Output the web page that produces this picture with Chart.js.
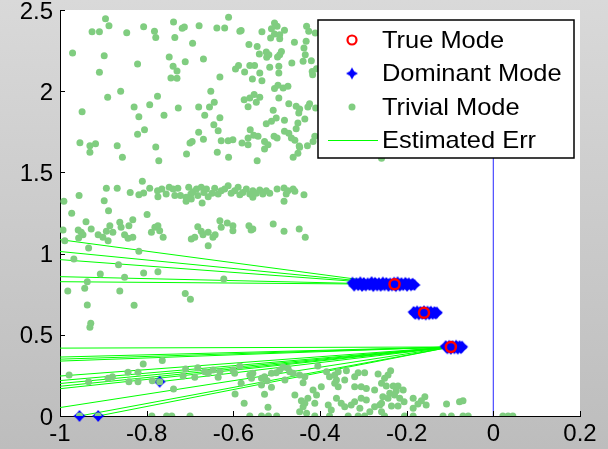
<!DOCTYPE html>
<html>
<head>
<meta charset="utf-8">
<script src="https://cdn.jsdelivr.net/npm/chart.js@4.4.1/dist/chart.umd.min.js"></script>
<style>
  html, body { margin: 0; padding: 0; background: #c8c8c8; }
  canvas { display: block; }
</style>
</head>
<body>
<canvas id="modes" width="608" height="449"></canvas>
<script>
// axis ticks
const xTicks = [-1, -0.8, -0.6, -0.4, -0.2, 0, 0.2];
const yTicks = [0, 0.5, 1, 1.5, 2, 2.5];

// true modes (red circles)
const trueModes = [[-0.228, 0.811], [-0.160, 0.636], [-0.098, 0.425]];

// dominant mode estimates (blue stars), one cluster per true mode
const domUpper = [
  [-0.325, 0.821], [-0.316, 0.818], [-0.307, 0.823], [-0.299, 0.819], [-0.290, 0.817], [-0.281, 0.824],
  [-0.273, 0.820], [-0.264, 0.818], [-0.255, 0.822], [-0.247, 0.819], [-0.238, 0.816], [-0.229, 0.821],
  [-0.221, 0.823], [-0.212, 0.818], [-0.203, 0.820], [-0.195, 0.817], [-0.186, 0.814],
  [-0.322, 0.811], [-0.311, 0.812], [-0.298, 0.810], [-0.284, 0.811], [-0.270, 0.812], [-0.256, 0.810],
  [-0.242, 0.811], [-0.228, 0.812], [-0.214, 0.810], [-0.200, 0.811], [-0.187, 0.811],
  [-0.321, 0.803], [-0.312, 0.806], [-0.303, 0.801], [-0.294, 0.804], [-0.286, 0.807], [-0.277, 0.800],
  [-0.268, 0.804], [-0.260, 0.802], [-0.251, 0.805], [-0.242, 0.801], [-0.234, 0.804], [-0.225, 0.800],
  [-0.216, 0.803], [-0.208, 0.806], [-0.199, 0.802], [-0.190, 0.805], [-0.182, 0.807]
];
const domMiddle = [
  [-0.184, 0.641], [-0.176, 0.644], [-0.168, 0.641], [-0.160, 0.645], [-0.152, 0.643], [-0.144, 0.642],
  [-0.136, 0.640], [-0.130, 0.637],
  [-0.182, 0.635], [-0.170, 0.636], [-0.158, 0.635], [-0.146, 0.636], [-0.134, 0.635],
  [-0.180, 0.629], [-0.172, 0.626], [-0.164, 0.629], [-0.156, 0.625], [-0.148, 0.627], [-0.140, 0.629],
  [-0.133, 0.631]
];
const domLower = [
  [-0.110, 0.430], [-0.102, 0.432], [-0.094, 0.431], [-0.086, 0.433], [-0.078, 0.430], [-0.072, 0.427],
  [-0.108, 0.424], [-0.096, 0.425], [-0.084, 0.424], [-0.074, 0.423],
  [-0.106, 0.417], [-0.098, 0.414], [-0.090, 0.417], [-0.082, 0.415], [-0.075, 0.418]
];
const domStray = [[-0.955, 0], [-0.912, 0], [-0.770, 0.211]];

// trivial modes (green dots)
const trivialUpper = [
  [-0.895, 2.446], [-0.887, 2.403], [-0.926, 2.366], [-0.909, 2.366], [-0.846, 2.360], [-0.807, 2.397],
  [-0.782, 2.369], [-0.779, 2.330], [-0.738, 2.426], [-0.735, 2.330], [-0.718, 2.387], [-0.713, 2.396],
  [-0.679, 2.403], [-0.638, 2.389], [-0.694, 2.295], [-0.971, 2.235], [-0.898, 2.219], [-0.821, 2.167],
  [-0.748, 2.211], [-0.711, 2.182], [-0.669, 2.198], [-0.739, 2.153], [-0.730, 2.124], [-0.744, 2.081],
  [-0.730, 2.079], [-0.909, 2.116], [-0.631, 2.087], [-0.860, 1.999], [-0.890, 1.962], [-0.949, 1.874],
  [-0.829, 1.903], [-0.793, 1.917], [-0.775, 1.969], [-0.818, 1.843], [-0.760, 1.852], [-0.727, 1.897],
  [-0.680, 1.903], [-0.655, 1.903], [-0.652, 1.999], [-0.644, 1.932], [-0.666, 1.852], [-0.631, 1.837],
  [-0.645, 1.794], [-0.635, 1.757], [-0.680, 1.747], [-0.669, 1.704], [-0.695, 1.691], [-0.700, 1.681],
  [-0.628, 1.695], [-0.805, 1.763], [-0.821, 1.735], [-0.954, 1.683], [-0.931, 1.664], [-0.918, 1.677],
  [-0.868, 1.664], [-0.779, 1.656],
  [-0.611, 2.455], [-0.620, 2.389], [-0.582, 2.373], [-0.585, 2.369], [-0.534, 2.366], [-0.505, 2.420],
  [-0.499, 2.400], [-0.512, 2.385], [-0.482, 2.375], [-0.505, 2.352], [-0.493, 2.348], [-0.514, 2.328],
  [-0.493, 2.323], [-0.431, 2.400], [-0.426, 2.369], [-0.411, 2.358], [-0.459, 2.301], [-0.432, 2.307],
  [-0.564, 2.287], [-0.545, 2.276], [-0.540, 2.229], [-0.524, 2.241], [-0.518, 2.225], [-0.523, 2.209],
  [-0.489, 2.245], [-0.493, 2.225], [-0.498, 2.211], [-0.437, 2.266], [-0.434, 2.225], [-0.439, 2.184],
  [-0.420, 2.188], [-0.465, 2.174], [-0.516, 2.147], [-0.495, 2.153], [-0.495, 2.112], [-0.562, 2.159],
  [-0.551, 2.159], [-0.588, 2.159], [-0.595, 2.137], [-0.574, 2.118], [-0.539, 2.112], [-0.556, 2.075],
  [-0.534, 2.065], [-0.418, 2.122], [-0.408, 2.139], [-0.417, 2.102], [-0.497, 2.036], [-0.505, 2.016],
  [-0.485, 2.020], [-0.474, 2.030], [-0.575, 1.948], [-0.562, 1.958], [-0.552, 1.979], [-0.539, 1.962],
  [-0.547, 1.932], [-0.566, 1.905], [-0.495, 1.958], [-0.508, 1.882], [-0.472, 1.923], [-0.455, 1.907],
  [-0.447, 1.890], [-0.449, 1.866], [-0.428, 1.903], [-0.424, 1.923], [-0.410, 1.897], [-0.512, 1.815],
  [-0.524, 1.800], [-0.501, 1.835], [-0.482, 1.821], [-0.451, 1.804], [-0.435, 1.829], [-0.455, 1.769],
  [-0.561, 1.763], [-0.543, 1.722], [-0.553, 1.728], [-0.566, 1.712], [-0.482, 1.753], [-0.472, 1.741],
  [-0.466, 1.712], [-0.458, 1.698], [-0.506, 1.722], [-0.499, 1.712], [-0.528, 1.691], [-0.520, 1.671],
  [-0.412, 1.722], [-0.416, 1.691], [-0.612, 1.695], [-0.601, 1.701], [-0.580, 1.681], [-0.566, 1.671],
  [-0.448, 1.663], [-0.429, 1.664], [-0.258, 1.587],
  [-0.931, 1.624], [-0.856, 1.593], [-0.772, 1.572], [-0.708, 1.613], [-0.637, 1.624], [-0.611, 1.593],
  [-0.545, 1.572], [-0.528, 1.644], [-0.447, 1.655], [-0.451, 1.618], [-0.462, 1.593]
];
const trivialBand = [
  [-0.810, 1.445], [-0.893, 1.402], [-0.868, 1.402], [-0.956, 1.357], [-0.991, 1.322], [-0.898, 1.326],
  [-0.838, 1.377], [-0.818, 1.363], [-0.807, 1.373], [-0.793, 1.402], [-0.775, 1.387], [-0.774, 1.350],
  [-0.765, 1.398], [-0.755, 1.367], [-0.748, 1.408], [-0.739, 1.398], [-0.735, 1.357], [-0.728, 1.402],
  [-0.722, 1.357], [-0.709, 1.347], [-0.703, 1.408], [-0.698, 1.367], [-0.693, 1.381], [-0.685, 1.398],
  [-0.682, 1.357], [-0.674, 1.408], [-0.668, 1.377], [-0.662, 1.398], [-0.658, 1.350], [-0.649, 1.371],
  [-0.643, 1.402], [-0.635, 1.367], [-0.628, 1.387], [-0.709, 1.322], [-0.697, 1.336], [-0.672, 1.312],
  [-0.620, 1.398], [-0.612, 1.418], [-0.605, 1.371], [-0.597, 1.387], [-0.589, 1.408], [-0.585, 1.363],
  [-0.578, 1.377], [-0.570, 1.398], [-0.562, 1.367], [-0.555, 1.387], [-0.555, 1.347], [-0.547, 1.371],
  [-0.539, 1.392], [-0.532, 1.367], [-0.524, 1.387], [-0.516, 1.371], [-0.499, 1.398], [-0.483, 1.404],
  [-0.478, 1.367], [-0.474, 1.387], [-0.483, 1.322], [-0.462, 1.398], [-0.458, 1.384], [-0.437, 1.363],
  [-0.888, 1.264], [-0.973, 1.248], [-0.799, 1.240]
];
const trivialMid = [
  [-0.993, 1.145], [-0.631, 1.203], [-0.940, 1.196], [-0.832, 1.209], [-0.958, 1.145], [-0.951, 1.131],
  [-0.947, 1.116], [-0.957, 1.096], [-0.928, 1.151], [-0.912, 1.116], [-0.901, 1.100], [-0.889, 1.079],
  [-0.893, 1.137], [-0.885, 1.172], [-0.878, 1.131], [-0.862, 1.193], [-0.859, 1.162], [-0.851, 1.116],
  [-0.841, 1.172], [-0.843, 1.094], [-0.832, 1.100], [-0.789, 1.131], [-0.781, 1.162], [-0.774, 1.172],
  [-0.770, 1.141], [-0.762, 1.100], [-0.682, 1.166], [-0.674, 1.137], [-0.670, 1.116], [-0.658, 1.131],
  [-0.647, 1.100], [-0.642, 1.116], [-0.697, 1.090], [-0.689, 1.100], [-0.658, 1.049], [-0.628, 1.162],
  [-0.989, 1.079], [-0.934, 1.034], [-0.818, 1.014], [-0.968, 0.967], [-0.865, 0.932], [-0.907, 0.874],
  [-0.851, 0.854], [-0.807, 0.881], [-0.774, 0.889], [-0.937, 0.827],
  [-0.614, 1.188], [-0.601, 1.172], [-0.601, 1.141], [-0.564, 1.172], [-0.559, 1.145], [-0.555, 1.151],
  [-0.508, 1.182], [-0.483, 1.137], [-0.448, 1.151], [-0.434, 1.100], [-0.622, 0.844],
  [-0.943, 0.786], [-0.982, 0.770], [-0.862, 0.770], [-0.711, 0.755], [-0.699, 0.719], [-0.937, 0.683],
  [-0.829, 0.682], [-0.929, 0.571], [-0.931, 0.546]
];
const trivialLow = [
  [-0.808, 0.320], [-0.764, 0.341], [-0.979, 0.252], [-0.934, 0.211], [-0.889, 0.232], [-0.879, 0.242],
  [-0.843, 0.269], [-0.820, 0.269], [-0.841, 0.211], [-0.820, 0.211], [-0.787, 0.217], [-0.738, 0.166],
  [-0.710, 0.289], [-0.682, 0.297], [-0.666, 0.273], [-0.647, 0.283], [-0.716, 0.246], [-0.689, 0.238],
  [-0.658, 0.263], [-0.635, 0.238], [-0.631, 0.273], [-0.596, 0.135], [-0.575, 0.078], [-0.770, 0.211],
  [-0.405, 0.308], [-0.601, 0.283], [-0.597, 0.263], [-0.585, 0.308], [-0.562, 0.252], [-0.558, 0.232],
  [-0.555, 0.263], [-0.535, 0.232], [-0.528, 0.242], [-0.522, 0.217], [-0.512, 0.263], [-0.501, 0.267],
  [-0.493, 0.283], [-0.485, 0.300], [-0.474, 0.294], [-0.470, 0.273], [-0.462, 0.263], [-0.481, 0.222],
  [-0.447, 0.252], [-0.435, 0.242], [-0.439, 0.205], [-0.582, 0.201], [-0.535, 0.191], [-0.512, 0.177],
  [-0.528, 0.134], [-0.520, 0.054], [-0.458, 0.129], [-0.443, 0.094], [-0.435, 0.078], [-0.428, 0.109],
  [-0.439, 0.057], [-0.447, 0.026], [-0.431, 0.017], [-0.416, 0.160], [-0.408, 0.129], [-0.397, 0.180],
  [-0.412, 0.078], [-0.385, 0.273], [-0.378, 0.242], [-0.366, 0.252], [-0.358, 0.273], [-0.362, 0.222],
  [-0.358, 0.180], [-0.366, 0.201], [-0.339, 0.279], [-0.343, 0.222], [-0.320, 0.242], [-0.312, 0.267],
  [-0.297, 0.267], [-0.320, 0.180], [-0.305, 0.180], [-0.293, 0.170], [-0.274, 0.160], [-0.258, 0.201],
  [-0.381, 0.068], [-0.374, 0.037], [-0.362, 0.109], [-0.351, 0.078], [-0.343, 0.057], [-0.328, 0.068],
  [-0.320, 0.088], [-0.305, 0.109], [-0.293, 0.099], [-0.274, 0.057], [-0.262, 0.068], [-0.308, 0.047],
  [-0.285, 0.026], [-0.258, 0.026], [-0.266, 0.259],
  [-0.237, 0.279], [-0.243, 0.252], [-0.251, 0.232], [-0.247, 0.185], [-0.231, 0.185], [-0.220, 0.185],
  [-0.224, 0.156], [-0.208, 0.160], [-0.239, 0.140], [-0.228, 0.129], [-0.216, 0.109], [-0.206, 0.088],
  [-0.243, 0.109], [-0.255, 0.119], [-0.258, 0.078], [-0.235, 0.062], [-0.220, 0.062], [-0.185, 0.109],
  [-0.158, 0.119], [-0.166, 0.094], [-0.174, 0.074], [-0.185, 0.047], [-0.155, 0.068], [-0.108, 0.074],
  [-0.078, 0.088], [-0.070, 0.094]
];
// dots sitting on the x axis
const trivialZero = [
  -0.955, -0.912, -0.788, -0.754, -0.742, -0.700, -0.562, -0.535, -0.519, -0.500, -0.412, -0.378,
  -0.335, -0.312, -0.297, -0.251, -0.205, -0.185, -0.116, -0.097, -0.070, -0.058, 0.022, 0.034, 0.045
];

// estimated error lines: y where each one enters at x = -1, and the mode it ends on
const errUpperY = [1.086, 1.013, 0.963, 0.858, 0.827];   // -> trueModes[0]
const errLowerY = [0.418, 0.363, 0.350, 0.338, 0.246, 0.218, 0.200, 0.183, 0.168, 0.052];   // -> trueModes[2]

// x = 0 reference line
const zeroLine = [[0, 0], [0, 2.0]];

const GREEN_DOT = 'rgb(128,205,128)';
const ERR_GREEN = '#00ff00';
const FONT = { family: '"Liberation Sans", Arial, sans-serif', size: 24 };

const xy = pts => pts.map(([x, y]) => ({ x, y }));
const fmt = v => String(+Number(v).toFixed(2));

// four point star marker; k sets how fat the waist is
function makeStar(r, k, color) {
  const c = document.createElement('canvas');
  const s = Math.ceil(r * 2 + 2);
  c.width = s; c.height = s;
  const g = c.getContext('2d');
  const m = s / 2, w = r * k;
  g.fillStyle = color;
  g.beginPath();
  g.moveTo(m, m - r); g.lineTo(m + w, m - w); g.lineTo(m + r, m); g.lineTo(m + w, m + w);
  g.lineTo(m, m + r); g.lineTo(m - w, m + w); g.lineTo(m - r, m); g.lineTo(m - w, m - w);
  g.closePath();
  g.fill();
  return c;
}
const star = makeStar(6, 0.45, '#0000ff');
const legendStar = makeStar(6, 0.36, '#0000ff');

const errLine = (from, to) => ({
  type: 'scatter',
  data: xy([from, to]),
  showLine: true,
  borderColor: ERR_GREEN,
  borderWidth: 1,
  pointRadius: 0,
  clip: 0,
  order: 4
});

const errSets = [
  ...errUpperY.map(y => errLine([-1, y], trueModes[0])),
  ...errLowerY.map(y => errLine([-1, y], trueModes[2])),
  ...domStray.map(p => errLine(p, trueModes[2]))
];

const trivialAll = [
  ...trivialUpper, ...trivialBand, ...trivialMid, ...trivialLow,
  ...trivialZero.map(x => [x, 0])
];

// gray figure background with a white axes box
const figureBg = {
  id: 'figureBg',
  beforeDraw(chart) {
    const { ctx, width, height, chartArea: a } = chart;
    ctx.save();
    const g = ctx.createLinearGradient(0, 0, 0, height);
    g.addColorStop(0, '#d9d9d9');
    g.addColorStop(1, '#bdbdbd');
    ctx.fillStyle = g;
    ctx.fillRect(0, 0, width, height);
    ctx.fillStyle = '#ffffff';
    ctx.fillRect(a.left, a.top, a.right - a.left, a.bottom - a.top);
    ctx.restore();
  }
};

// MATLAB style ticks pointing into the axes
const inwardTicks = {
  id: 'inwardTicks',
  afterDatasetsDraw(chart) {
    const { ctx, chartArea: a, scales: { x, y } } = chart;
    ctx.save();
    ctx.strokeStyle = '#000';
    ctx.lineWidth = 1;
    ctx.beginPath();
    xTicks.forEach(v => {
      const px = Math.round(x.getPixelForValue(v)) + 0.5;
      ctx.moveTo(px, a.bottom); ctx.lineTo(px, a.bottom - 5);
    });
    yTicks.forEach(v => {
      const py = Math.round(y.getPixelForValue(v)) + 0.5;
      ctx.moveTo(a.left, py); ctx.lineTo(a.left + 5, py);
    });
    ctx.stroke();
    ctx.restore();
  }
};

// boxed legend in the upper right of the axes
const boxLegend = {
  id: 'boxLegend',
  afterDraw(chart) {
    const { ctx } = chart;
    const left = 318, top = 20, w = 256, h = 138;
    const rows = [40, 73.5, 107, 140];
    const mx = left + 34, tx = left + 64;
    ctx.save();
    ctx.fillStyle = '#fff';
    ctx.fillRect(left, top, w, h);
    ctx.strokeStyle = '#000';
    ctx.lineWidth = 1.5;
    ctx.strokeRect(left, top, w, h);

    ctx.strokeStyle = '#ff0000';
    ctx.lineWidth = 2.2;
    ctx.beginPath(); ctx.arc(mx, rows[0], 4.5, 0, Math.PI * 2); ctx.stroke();

    ctx.drawImage(legendStar, mx - legendStar.width / 2, rows[1] - legendStar.height / 2);

    ctx.fillStyle = GREEN_DOT;
    ctx.beginPath(); ctx.arc(mx, rows[2], 3.5, 0, Math.PI * 2); ctx.fill();

    ctx.strokeStyle = ERR_GREEN;
    ctx.lineWidth = 1;
    ctx.beginPath(); ctx.moveTo(left + 10, rows[3] + 0.5); ctx.lineTo(left + 60, rows[3] + 0.5); ctx.stroke();

    ctx.fillStyle = '#000';
    ctx.font = `${FONT.size}px ${FONT.family}`;
    ctx.textBaseline = 'middle';
    ['True Mode', 'Dominant Mode', 'Trivial Mode', 'Estimated Err'].forEach((t, i) => {
      ctx.save();
      ctx.translate(tx, rows[i] + 1);
      ctx.scale(1.06, 1);
      ctx.fillText(t, 0, 0);
      ctx.restore();
    });
    ctx.restore();
  }
};

new Chart(document.getElementById('modes'), {
  type: 'scatter',
  data: {
    datasets: [
      {
        data: xy(trueModes),
        pointStyle: 'circle',
        pointRadius: 5,
        borderWidth: 2.5,
        borderColor: '#ff0000',
        backgroundColor: 'rgba(0,0,0,0)',
        clip: 0,
        order: 0
      },
      {
        data: xy(trivialAll),
        pointStyle: 'circle',
        pointRadius: 3.5,
        borderWidth: 0,
        backgroundColor: GREEN_DOT,
        clip: 0,
        order: 1
      },
      {
        data: xy([...domUpper, ...domMiddle, ...domLower, ...domStray]),
        pointStyle: star,
        borderWidth: 0,
        clip: { left: 0, top: 0, right: 0, bottom: 8 },
        order: 2
      },
      ...errSets,
      {
        data: xy(zeroLine),
        showLine: true,
        borderColor: '#4a4aff',
        borderWidth: 1.2,
        pointRadius: 0,
        clip: 0,
        order: 5
      }
    ]
  },
  options: {
    responsive: false,
    animation: false,
    devicePixelRatio: 1,
    events: [],
    layout: { padding: { top: 10, right: 28, left: 0, bottom: 0 } },
    plugins: { legend: { display: false }, tooltip: { enabled: false } },
    scales: {
      x: {
        type: 'linear',
        min: -1,
        max: 0.2,
        afterBuildTicks: s => { s.ticks = xTicks.map(value => ({ value })); },
        afterFit: s => { s.height = 33; s.paddingLeft = 0; s.paddingRight = 0; },
        grid: { display: false, drawTicks: false },
        border: { display: true, color: '#000', width: 1 },
        ticks: { font: FONT, color: '#000', padding: 4, maxRotation: 0, autoSkip: false, callback: fmt }
      },
      y: {
        type: 'linear',
        min: 0,
        max: 2.5,
        afterBuildTicks: s => { s.ticks = yTicks.map(value => ({ value })); },
        afterFit: s => { s.width = 60; s.paddingTop = 0; s.paddingBottom = 0; },
        grid: { display: false, drawTicks: false },
        border: { display: true, color: '#000', width: 1 },
        ticks: { font: FONT, color: '#000', padding: 7, labelOffset: 2, autoSkip: false, callback: fmt }
      }
    }
  },
  plugins: [figureBg, inwardTicks, boxLegend]
});
</script>
</body>
</html>
